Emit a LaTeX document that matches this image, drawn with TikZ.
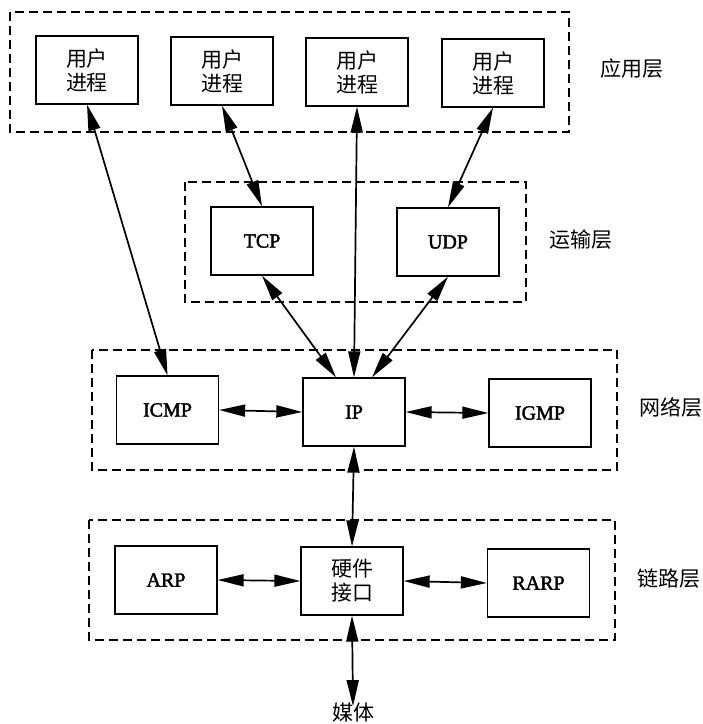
\documentclass[tikz,border=0pt]{standalone}
\usepackage{fontspec}
\setmainfont{Liberation Serif}[RawFeature={embolden=2}]
\newfontfamily\cjk{Noto Sans CJK SC}
\usetikzlibrary{arrows.meta}
\tikzset{
  box/.style={draw,line width=1.3pt,minimum width=102pt,minimum height=68pt,inner sep=0pt,align=center,font=\fontsize{20}{23}\selectfont},
  cbox/.style={box,font=\fontsize{21}{24}\selectfont\cjk},
  layer/.style={draw,line width=1.3pt,dash pattern=on 9pt off 5pt},
  lbl/.style={inner sep=0pt,font=\fontsize{21}{24}\selectfont\cjk},
  conn/.style={line width=1.7pt,{Triangle[length=26pt,width=12pt]}-{Triangle[length=26pt,width=12pt]}}
}
\begin{document}
\begin{tikzpicture}[x=1pt,y=-1pt]
\useasboundingbox (0,0) rectangle (703,724);
% layer frames
\draw[layer] (10,12) rectangle (569,132);
\draw[layer] (185,182) rectangle (526,302);
\draw[layer] (92,350) rectangle (617,470);
\draw[layer] (89,520) rectangle (615,640);
% application layer
\node[cbox] (u1) at (87,70) {用户\\进程};
\node[cbox] (u2) at (222,71) {用户\\进程};
\node[cbox] (u3) at (357,72) {用户\\进程};
\node[cbox] (u4) at (493,73) {用户\\进程};
\node[lbl] (lapp) at (632,69) {应用层};
% transport layer
\node[box] (tcp) at (262,241) {TCP};
\node[box] (udp) at (448,242) {UDP};
\node[lbl] (ltr) at (581,240) {运输层};
% network layer
\node[box] (icmp) at (167.5,410) {ICMP};
\node[box] (ip) at (354,412) {IP};
\node[box] (igmp) at (540,413) {IGMP};
\node[lbl] (lnet) at (671,407) {网络层};
% link layer
\node[box] (arp) at (166,580) {ARP};
\node[cbox] (hw) at (352,581) {硬件\\接口};
\node[box] (rarp) at (538.5,583) {RARP};
\node[lbl] (llink) at (669,579) {链路层};
\node[lbl] (media) at (353,713) {媒体};
% connectors
\draw[conn] (u1.south) -- (icmp.north);
\draw[conn] (u2.south) -- (tcp.north);
\draw[conn] (u3.south) -- (ip.north);
\draw[conn] (u4.south) -- (udp.north);
\draw[conn] (tcp.south) -- ([xshift=-18pt]ip.north);
\draw[conn] (udp.south) -- ([xshift=18pt]ip.north);
\draw[conn] (icmp.east) -- (ip.west);
\draw[conn] (ip.east) -- (igmp.west);
\draw[conn] (ip.south) -- (hw.north);
\draw[conn] (arp.east) -- (hw.west);
\draw[conn] (hw.east) -- (rarp.west);
\draw[conn] (hw.south) -- ([yshift=-3pt]media.north);
\end{tikzpicture}
\end{document}
